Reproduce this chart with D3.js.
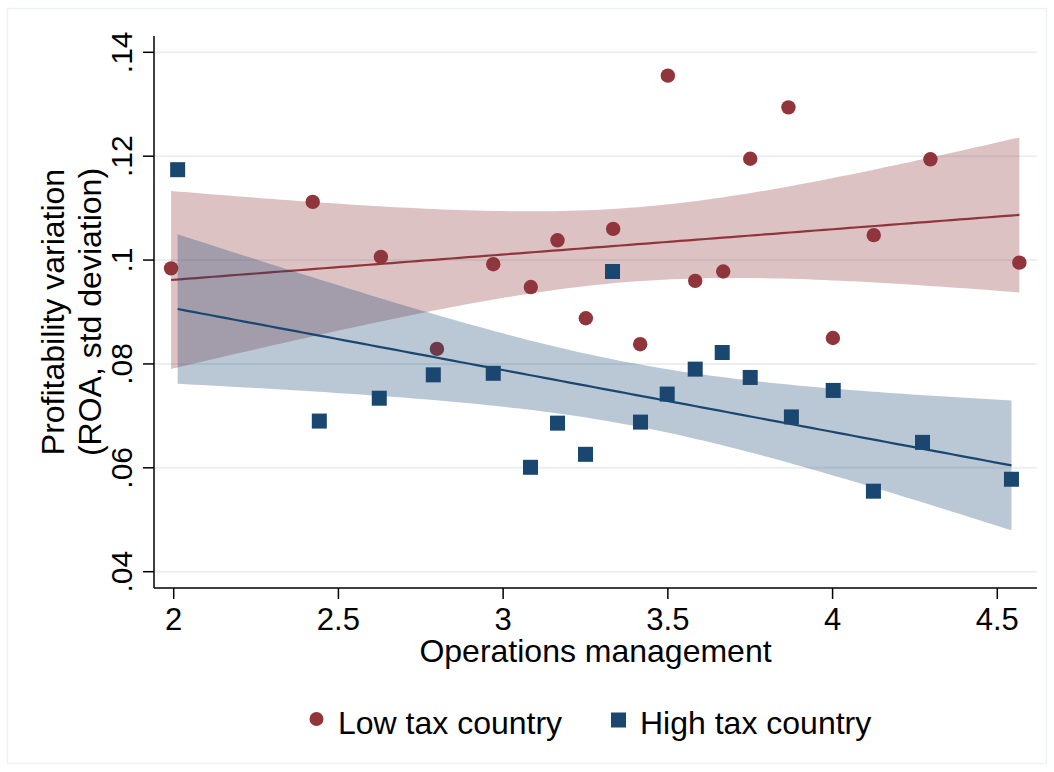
<!DOCTYPE html>
<html>

<head>
  <meta charset="utf8">
  <script src="https://d3js.org/d3.v7.min.js"></script>
  <style>
    body { margin: 0; background: #fff; }
    text { font-family: "Liberation Sans", Arial, sans-serif; fill: #000; }
  </style>
</head>

<body>
  <svg id="chart" width="1054" height="772"></svg>
  <script>
    // Low tax country (circles)
    var lowX = [1.992, 2.422, 2.629, 2.799, 2.970, 3.084, 3.165, 3.251, 3.334, 3.416,
      3.500, 3.583, 3.668, 3.750, 3.866, 4.001, 4.125, 4.297, 4.567];
    var lowY = [0.0984, 0.1112, 0.1006, 0.0829, 0.0992, 0.0948, 0.1038, 0.0888, 0.1060, 0.0838,
      0.1355, 0.0960, 0.0978, 0.1195, 0.1294, 0.0850, 0.1048, 0.1194, 0.0995];

    // High tax country (squares)
    var highX = [2.012, 2.442, 2.624, 2.788, 2.970, 3.083, 3.165, 3.250, 3.332, 3.417,
      3.498, 3.583, 3.665, 3.750, 3.875, 4.002, 4.124, 4.273, 4.543];
    var highY = [0.1174, 0.0690, 0.0734, 0.0779, 0.0782, 0.0601, 0.0686, 0.0626, 0.0978, 0.0688,
      0.0742, 0.0790, 0.0822, 0.0774, 0.0698, 0.0749, 0.0555, 0.0649, 0.0578];

    var xTicks = [2, 2.5, 3, 3.5, 4, 4.5];
    var xTickLabels = ['2', '2.5', '3', '3.5', '4', '4.5'];
    var yTicks = [0.04, 0.06, 0.08, 0.10, 0.12, 0.14];
    var yTickLabels = ['.04', '.06', '.08', '.1', '.12', '.14'];

    var seriesNames = ['Low tax country', 'High tax country'];

    var maroon = '#90353b';
    var navy = '#1a476f';
    var gridColor = '#e9f0f2';

    var chart = d3.select('#chart');

    // plot region edges
    var plotLeft = 154, plotRight = 1037, plotTop = 36, plotBottom = 588;

    var x = d3.scaleLinear().domain([2, 4.5]).range([173.7, 997.3]);
    var y = d3.scaleLinear().domain([0.04, 0.14]).range([571.7, 52.3]);

    // light outer frame of the graph region
    chart.append('rect')
      .attr('x', 7.5).attr('y', 8.5)
      .attr('width', 1039).attr('height', 755)
      .attr('fill', 'none')
      .attr('stroke', '#edf2f4')
      .attr('stroke-width', 1.5);

    // gridlines
    chart.append('g')
      .selectAll('line')
      .data(yTicks)
      .enter()
      .append('line')
      .attr('x1', plotLeft).attr('x2', plotRight)
      .attr('y1', (d) => y(d)).attr('y2', (d) => y(d))
      .attr('stroke', gridColor)
      .attr('stroke-width', 2);

    // linear fit with 95% CI, like Stata's lfitci
    var tCrit = 2.1098; // t(0.975, 17)
    function lfitci(xs, ys) {
      var n = xs.length;
      var mx = d3.mean(xs), my = d3.mean(ys);
      var sxx = 0, sxy = 0;
      for (var i = 0; i < n; i++) {
        sxx += (xs[i] - mx) * (xs[i] - mx);
        sxy += (xs[i] - mx) * (ys[i] - my);
      }
      var b = sxy / sxx;
      var a = my - b * mx;
      var ssr = 0;
      for (var j = 0; j < n; j++) {
        var r = ys[j] - (a + b * xs[j]);
        ssr += r * r;
      }
      var s = Math.sqrt(ssr / (n - 2));
      var x0 = d3.min(xs), x1 = d3.max(xs);
      var pts = [];
      for (var k = 0; k <= 100; k++) {
        var xv = x0 + (x1 - x0) * k / 100;
        var fit = a + b * xv;
        var se = s * Math.sqrt(1 / n + (xv - mx) * (xv - mx) / sxx);
        pts.push({ x: xv, fit: fit, lo: fit - tCrit * se, hi: fit + tCrit * se });
      }
      return pts;
    }

    var area = d3.area()
      .x((d) => x(d.x))
      .y0((d) => y(d.lo))
      .y1((d) => y(d.hi));

    var line = d3.line()
      .x((d) => x(d.x))
      .y((d) => y(d.fit));

    var lowData = lowX.map((v, i) => ({ x: v, y: lowY[i] }));
    var highData = highX.map((v, i) => ({ x: v, y: highY[i] }));

    function drawFit(pts, color) {
      chart.append('path')
        .attr('d', area(pts))
        .attr('fill', color)
        .attr('fill-opacity', 0.3);
      chart.append('path')
        .attr('d', line(pts))
        .attr('fill', 'none')
        .attr('stroke', color)
        .attr('stroke-width', 2.2);
    }

    // low tax scatter
    chart.append('g')
      .selectAll('circle')
      .data(lowData)
      .enter()
      .append('circle')
      .attr('cx', (d) => x(d.x))
      .attr('cy', (d) => y(d.y))
      .attr('r', 7.2)
      .attr('fill', maroon);

    drawFit(lfitci(lowX, lowY), maroon);

    // high tax scatter
    var sq = 15;
    chart.append('g')
      .selectAll('rect')
      .data(highData)
      .enter()
      .append('rect')
      .attr('x', (d) => x(d.x) - sq / 2)
      .attr('y', (d) => y(d.y) - sq / 2)
      .attr('width', sq)
      .attr('height', sq)
      .attr('fill', navy);

    drawFit(lfitci(highX, highY), navy);

    // axes
    chart.append('line')
      .attr('x1', plotLeft).attr('x2', plotLeft)
      .attr('y1', plotTop).attr('y2', plotBottom)
      .attr('stroke', '#000').attr('stroke-width', 1.5);
    chart.append('line')
      .attr('x1', plotLeft).attr('x2', plotRight)
      .attr('y1', plotBottom).attr('y2', plotBottom)
      .attr('stroke', '#000').attr('stroke-width', 1.5);

    var yAxis = chart.append('g');
    yAxis.selectAll('line')
      .data(yTicks)
      .enter()
      .append('line')
      .attr('x1', plotLeft - 11).attr('x2', plotLeft)
      .attr('y1', (d) => y(d)).attr('y2', (d) => y(d))
      .attr('stroke', '#000').attr('stroke-width', 1.5);
    yAxis.selectAll('text')
      .data(yTicks)
      .enter()
      .append('text')
      .attr('transform', (d) => 'translate(132,' + y(d) + ') rotate(-90)')
      .attr('text-anchor', 'middle')
      .style('font-size', '30px')
      .text((d, i) => yTickLabels[i]);

    var xAxis = chart.append('g');
    xAxis.selectAll('line')
      .data(xTicks)
      .enter()
      .append('line')
      .attr('x1', (d) => x(d)).attr('x2', (d) => x(d))
      .attr('y1', plotBottom).attr('y2', plotBottom + 11)
      .attr('stroke', '#000').attr('stroke-width', 1.5);
    xAxis.selectAll('text')
      .data(xTicks)
      .enter()
      .append('text')
      .attr('x', (d) => x(d))
      .attr('y', 629.5)
      .attr('text-anchor', 'middle')
      .style('font-size', '31px')
      .text((d, i) => xTickLabels[i]);

    // axis titles
    chart.append('text')
      .attr('x', (plotLeft + plotRight) / 2)
      .attr('y', 662)
      .attr('text-anchor', 'middle')
      .style('font-size', '32px')
      .text('Operations management');

    var midY = (plotTop + plotBottom) / 2;
    chart.append('text')
      .attr('transform', 'translate(64,' + midY + ') rotate(-90)')
      .attr('text-anchor', 'middle')
      .style('font-size', '32px')
      .text('Profitability variation');
    chart.append('text')
      .attr('transform', 'translate(100.5,' + midY + ') rotate(-90)')
      .attr('text-anchor', 'middle')
      .style('font-size', '32px')
      .text('(ROA, std deviation)');

    // legend
    var legend = chart.append('g');
    legend.append('circle')
      .attr('cx', 316.5).attr('cy', 719)
      .attr('r', 7)
      .attr('fill', maroon);
    legend.append('text')
      .attr('x', 338).attr('y', 733.5)
      .style('font-size', '32px')
      .text(seriesNames[0]);
    legend.append('rect')
      .attr('x', 611).attr('y', 712.5)
      .attr('width', 15).attr('height', 15)
      .attr('fill', navy);
    legend.append('text')
      .attr('x', 640).attr('y', 733.5)
      .style('font-size', '32px')
      .text(seriesNames[1]);
  </script>
</body>

</html>
